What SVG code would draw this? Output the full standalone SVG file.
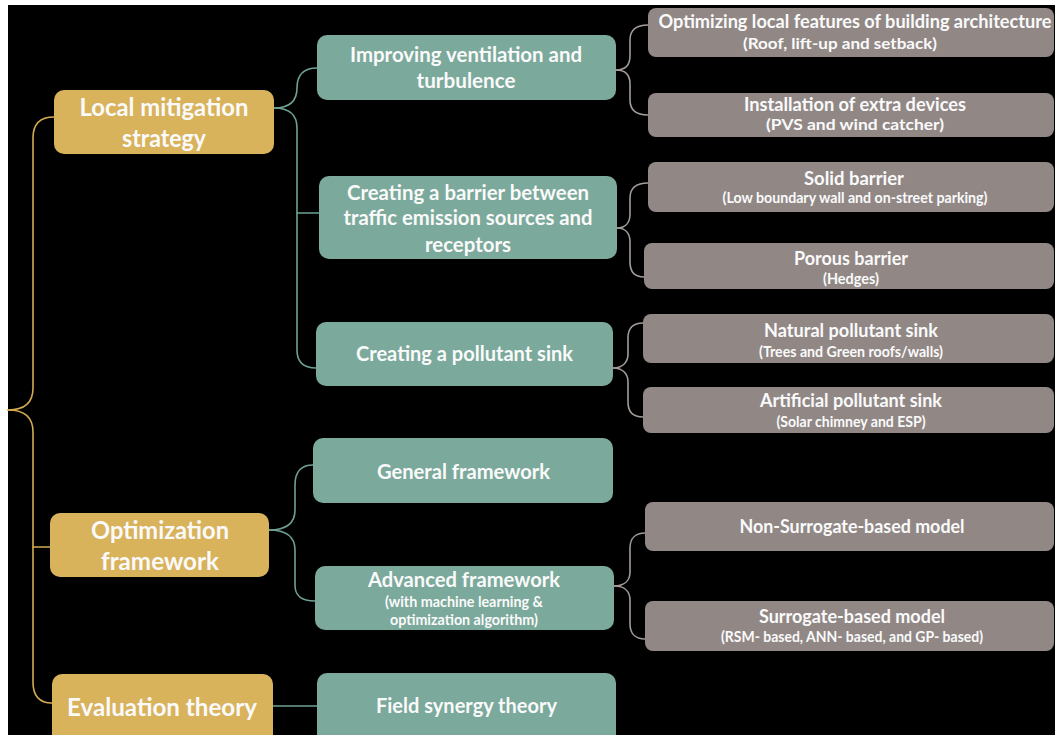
<svg xmlns="http://www.w3.org/2000/svg" width="1055" height="735" viewBox="0 0 1055 735">
  <style>
    .bg { fill: #000000; }
    .gold { fill: #D9B25C; }
    .teal { fill: #7BA99B; }
    .grey { fill: #918886; }
    .t { font-family: Lato, "Open Sans", sans-serif; font-weight: bold; fill: #FAFAFA; text-anchor: middle; }
    .t1 { font-size: 24px; }
    .t2 { font-size: 20.3px; }
    .t2s { font-size: 14.4px; }
    .t3 { font-size: 18.2px; }
    .t3s { font-size: 14.2px; }
    .t3b { font-size: 16px; }
    .c { fill: none; stroke-width: 1.6; stroke-linecap: round; }
    .cg { stroke: #D4AA50; }
    .ct { stroke: #6FA094; }
    .cr { stroke: #A39B97; }
  </style>
  <rect x="0" y="0" width="1055" height="735" fill="#FFFFFF"/>
  <rect class="bg" x="8" y="5" width="1047" height="730"/>

  <g id="connectors">
    <!-- root brace -->
    <path class="c cg" d="M8,410 C26,410 33,402 33,388 V138 C33,124 40,117 54,117"/>
    <path class="c cg" d="M8,410 C26,410 33,418 33,432 V682 C33,696 40,703 52,703"/>
    <path class="c cg" d="M33,547 H50"/>
    <!-- local mitigation strategy -->
    <path class="c ct" d="M274,108 C291,108 297,100 297,88 C297,76 303,68 317,68"/>
    <path class="c ct" d="M274,108 C291,108 297,116 297,128 V350 C297,362 303,368 316,368"/>
    <path class="c ct" d="M297,213 H319"/>
    <!-- optimization framework -->
    <path class="c ct" d="M269,530 C288,530 295,522 295,510 V485 C295,472 301,465 313,465"/>
    <path class="c ct" d="M269,530 C288,530 295,538 295,550 V585 C295,596 301,601 315,601"/>
    <!-- evaluation theory -->
    <path class="c ct" d="M273,706 H317"/>
    <!-- third level -->
    <path class="c cr" d="M616,70 C626,70 630,64 630,56 V40 C630,30 636,25 648,25"/>
    <path class="c cr" d="M616,70 C626,70 630,76 630,84 V100 C630,110 636,115 648,115"/>
    <path class="c cr" d="M617,228 C626,228 630,222 630,214 V198 C630,188 636,183 648,183"/>
    <path class="c cr" d="M617,228 C626,228 630,234 630,242 V262 C630,272 635,277 644,277"/>
    <path class="c cr" d="M613,368 C623,368 628,362 628,354 V338 C628,328 633,323 643,323"/>
    <path class="c cr" d="M613,368 C623,368 628,374 628,382 V402 C628,412 633,417 643,417"/>
    <path class="c cr" d="M614,586 C625,586 630,580 630,572 V548 C630,538 636,533 645,533"/>
    <path class="c cr" d="M614,586 C625,586 630,592 630,600 V624 C630,634 636,639 645,639"/>
  </g>

  <!-- first level -->
  <g id="local-mitigation">
    <rect class="gold" x="54" y="90" width="220" height="64" rx="10"/>
    <text class="t t1" x="164" y="116" textLength="169" lengthAdjust="spacingAndGlyphs">Local mitigation</text>
    <text class="t t1" x="164" y="147" textLength="84" lengthAdjust="spacingAndGlyphs">strategy</text>
  </g>
  <g id="optimization-framework">
    <rect class="gold" x="50" y="513" width="219" height="64" rx="10"/>
    <text class="t t1" x="160" y="539" textLength="138" lengthAdjust="spacingAndGlyphs">Optimization</text>
    <text class="t t1" x="160" y="570" textLength="118" lengthAdjust="spacingAndGlyphs">framework</text>
  </g>
  <g id="evaluation-theory">
    <rect class="gold" x="52" y="674" width="221" height="72" rx="10"/>
    <text class="t t1" x="162" y="716" textLength="190" lengthAdjust="spacingAndGlyphs">Evaluation theory</text>
  </g>

  <!-- second level -->
  <g id="ventilation">
    <rect class="teal" x="317" y="35" width="299" height="65" rx="10"/>
    <text class="t t2" x="466" y="62" textLength="232" lengthAdjust="spacingAndGlyphs">Improving ventilation and</text>
    <text class="t t2" x="466" y="88" textLength="99" lengthAdjust="spacingAndGlyphs">turbulence</text>
  </g>
  <g id="barrier">
    <rect class="teal" x="319" y="176" width="298" height="83" rx="10"/>
    <text class="t t2" x="468" y="200" textLength="242" lengthAdjust="spacingAndGlyphs">Creating a barrier between</text>
    <text class="t t2" x="468" y="225" textLength="249" lengthAdjust="spacingAndGlyphs">traffic emission sources and</text>
    <text class="t t2" x="468" y="252" textLength="86" lengthAdjust="spacingAndGlyphs">receptors</text>
  </g>
  <g id="pollutant-sink">
    <rect class="teal" x="316" y="322" width="297" height="64" rx="10"/>
    <text class="t t2" x="464.5" y="361" textLength="217" lengthAdjust="spacingAndGlyphs">Creating a pollutant sink</text>
  </g>
  <g id="general-framework">
    <rect class="teal" x="313" y="438" width="300" height="65" rx="10"/>
    <text class="t t2" x="463.5" y="479" textLength="173" lengthAdjust="spacingAndGlyphs">General framework</text>
  </g>
  <g id="advanced-framework">
    <rect class="teal" x="315" y="566" width="299" height="64" rx="10"/>
    <text class="t t2" x="464" y="587" textLength="192" lengthAdjust="spacingAndGlyphs">Advanced framework</text>
    <text class="t t2s" x="464" y="607" textLength="158" lengthAdjust="spacingAndGlyphs">(with machine learning &amp;</text>
    <text class="t t2s" x="464" y="625" textLength="148" lengthAdjust="spacingAndGlyphs">optimization algorithm)</text>
  </g>
  <g id="field-synergy">
    <rect class="teal" x="317" y="673" width="299" height="72" rx="10"/>
    <text class="t t2" x="466.5" y="713" textLength="181" lengthAdjust="spacingAndGlyphs">Field synergy theory</text>
  </g>

  <!-- third level -->
  <g id="building-architecture">
    <rect class="grey" x="648" y="8" width="406" height="49" rx="8"/>
    <text class="t t3" x="855" y="28" textLength="393" lengthAdjust="spacingAndGlyphs">Optimizing local features of building architecture</text>
    <text class="t t3b" x="840" y="49" textLength="194" lengthAdjust="spacingAndGlyphs">(Roof, lift-up and setback)</text>
  </g>
  <g id="extra-devices">
    <rect class="grey" x="648" y="93" width="406" height="44" rx="8"/>
    <text class="t t3" x="855" y="111" textLength="222" lengthAdjust="spacingAndGlyphs">Installation of extra devices</text>
    <text class="t t3b" x="855" y="130" textLength="178" lengthAdjust="spacingAndGlyphs">(PVS and wind catcher)</text>
  </g>
  <g id="solid-barrier">
    <rect class="grey" x="648" y="162" width="406" height="50" rx="8"/>
    <text class="t t3" x="854" y="185" textLength="100" lengthAdjust="spacingAndGlyphs">Solid barrier</text>
    <text class="t t3s" x="855" y="203" textLength="265" lengthAdjust="spacingAndGlyphs">(Low boundary wall and on-street parking)</text>
  </g>
  <g id="porous-barrier">
    <rect class="grey" x="644" y="243" width="410" height="46" rx="8"/>
    <text class="t t3" x="851" y="265" textLength="114" lengthAdjust="spacingAndGlyphs">Porous barrier</text>
    <text class="t t3s" x="851" y="284" textLength="56" lengthAdjust="spacingAndGlyphs">(Hedges)</text>
  </g>
  <g id="natural-sink">
    <rect class="grey" x="643" y="314" width="411" height="49" rx="8"/>
    <text class="t t3" x="851" y="337" textLength="174" lengthAdjust="spacingAndGlyphs">Natural pollutant sink</text>
    <text class="t t3s" x="851" y="357" textLength="184" lengthAdjust="spacingAndGlyphs">(Trees and Green roofs/walls)</text>
  </g>
  <g id="artificial-sink">
    <rect class="grey" x="643" y="387" width="411" height="46" rx="8"/>
    <text class="t t3" x="851" y="407" textLength="182" lengthAdjust="spacingAndGlyphs">Artificial pollutant sink</text>
    <text class="t t3s" x="851" y="427" textLength="149" lengthAdjust="spacingAndGlyphs">(Solar chimney and ESP)</text>
  </g>
  <g id="non-surrogate">
    <rect class="grey" x="645" y="502" width="409" height="49" rx="8"/>
    <text class="t t3" x="852" y="533" textLength="225" lengthAdjust="spacingAndGlyphs">Non-Surrogate-based model</text>
  </g>
  <g id="surrogate">
    <rect class="grey" x="645" y="601" width="409" height="50" rx="8"/>
    <text class="t t3" x="852" y="623" textLength="186" lengthAdjust="spacingAndGlyphs">Surrogate-based model</text>
    <text class="t t3s" x="852" y="642" textLength="262" lengthAdjust="spacingAndGlyphs">(RSM- based, ANN- based, and GP- based)</text>
  </g>
</svg>
